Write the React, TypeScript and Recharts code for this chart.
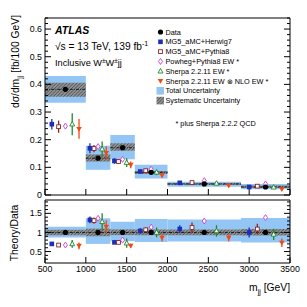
import React from 'react';
import {
  ComposedChart,
  Scatter,
  XAxis,
  YAxis,
  ErrorBar,
  ReferenceArea,
  ReferenceLine,
  Legend,
} from 'recharts';

const FONT = '"Liberation Sans", Arial, Helvetica, sans-serif';

// ---------------- data ----------------
const binEdges = [500, 1000, 1300, 1600, 2000, 2900, 3500];

const dataValues = [0.382, 0.133, 0.171, 0.082, 0.04, 0.029];
const totalLow = [0.334, 0.091, 0.129, 0.06, 0.03, 0.021];
const totalHigh = [0.43, 0.178, 0.217, 0.109, 0.048, 0.04];
const systLow = [0.355, 0.121, 0.16, 0.076, 0.036, 0.025];
const systHigh = [0.406, 0.147, 0.187, 0.087, 0.043, 0.034];

const herwigValues = [0.256, 0.169, 0.123, 0.085, 0.044, 0.029];
const herwigErr = [0.019, 0.018, 0.01, 0.005, 0.003, 0.003];
const pythiaValues = [0.247, 0.168, 0.121, 0.088, 0.045, 0.032];
const pythiaErr = [0.022, 0.013, 0.009, 0.005, 0.004, 0.004];
const powhegValues = [0.249, 0.175, 0.129, 0.093, 0.052, 0.04];
const powhegErr = [0.008, 0.006, 0.005, 0.003, 0.002, 0.002];
const sherpaValues = [0.256, 0.166, 0.117, 0.082, 0.042, 0.028];
const sherpaErr = [0.04, 0.027, 0.016, 0.01, 0.006, 0.004];
const sherpaNloValues = [0.239, 0.152, 0.109, 0.071, 0.034, 0.021];
const sherpaNloErr = [0.036, 0.024, 0.012, 0.008, 0.004, 0.003];

// ratio panel (Theory/Data)
const ratioTotalLow = [0.87, 0.7, 0.77, 0.75, 0.76, 0.74];
const ratioTotalHigh = [1.15, 1.37, 1.28, 1.35, 1.34, 1.38];
const ratioSystLow = [0.93, 0.9, 0.93, 0.93, 0.93, 0.92];
const ratioSystHigh = [1.07, 1.1, 1.08, 1.08, 1.08, 1.09];
const ratioData = [1, 1, 1, 1, 1, 1];

const herwigRatio = [0.7, 1.33, 0.74, 1.04, 1.09, 1.0];
const herwigRatioErr = [0.05, 0.09, 0.04, 0.07, 0.1, 0.13];
const pythiaRatio = [0.67, 1.31, 0.74, 1.07, 1.13, 1.09];
const pythiaRatioErr = [0.05, 0.08, 0.04, 0.06, 0.13, 0.14];
const powhegRatio = [0.67, 1.37, 0.8, 1.14, 1.3, 1.39];
const powhegRatioErr = [0.02, 0.04, 0.03, 0.04, 0.04, 0.05];
const sherpaRatio = [0.7, 1.28, 0.72, 1.0, 1.04, 0.95];
const sherpaRatioErr = [0.1, 0.22, 0.12, 0.13, 0.15, 0.15];
const sherpaNloRatio = [0.65, 1.15, 0.65, 0.86, 0.86, 0.73];
const sherpaNloRatioErr = [0.09, 0.17, 0.06, 0.1, 0.1, 0.11];

const seriesNames = [
  'MG5_aMC+Herwig7',
  'MG5_aMC+Pythia8',
  'Powheg+Pythia8 EW *',
  'Sherpa 2.2.11 EW *',
  'Sherpa 2.2.11 EW \u2297 NLO EW *',
];

// ticks
const xMajorTicks = [500, 1000, 1500, 2000, 2500, 3000, 3500];
const yTopTicks = [0, 0.1, 0.2, 0.3, 0.4, 0.5, 0.6];
const yRatioTicks = [0.5, 1, 1.5];

// minor tick positions (axis decoration)
const xMinorTicks: number[] = [];
for (let v = 500; v <= 3500; v += 100) if (v % 500 !== 0) xMinorTicks.push(v);
const yTopMinor: number[] = [];
for (let i = 1; i <= 32; i++) if (i % 5 !== 0) yTopMinor.push(+(i * 0.02).toFixed(2));
const yRatioMinor: number[] = [];
for (let i = 3; i <= 18; i++) if (i % 5 !== 0) yRatioMinor.push(+(i * 0.1).toFixed(1));

// ---------------- styles ----------------
const COLORS = ['#1c2db8', '#8e2323', '#c93fd0', '#1f8a2a', '#f04a14'];
const MARKERS = ['square', 'openSquare', 'openDiamond', 'openTriangle', 'triangleDown'];
const BAND_BLUE = '#93c6f4';
const THIN = 0.01;

const bins = binEdges.slice(0, -1).map((lo, i) => ({ lo, hi: binEdges[i + 1] }));
const binCentre = (i: number) => (bins[i].lo + bins[i].hi) / 2;
const offsetX = (i: number, k: number) => binCentre(i) + (k * (bins[i].hi - bins[i].lo)) / 6;

const topTheory = [
  [herwigValues, herwigErr],
  [pythiaValues, pythiaErr],
  [powhegValues, powhegErr],
  [sherpaValues, sherpaErr],
  [sherpaNloValues, sherpaNloErr],
];
const ratioTheory = [
  [herwigRatio, herwigRatioErr],
  [pythiaRatio, pythiaRatioErr],
  [powhegRatio, powhegRatioErr],
  [sherpaRatio, sherpaRatioErr],
  [sherpaNloRatio, sherpaNloRatioErr],
];

function drawMarker(kind: string, color: string, cx: number, cy: number, key?: string) {
  const s = 2.3;
  switch (kind) {
    case 'circle':
      return <circle key={key} cx={cx} cy={cy} r={2.6} fill={color} />;
    case 'square':
      return <rect key={key} x={cx - s} y={cy - s} width={2 * s} height={2 * s} fill={color} />;
    case 'openSquare':
      return (
        <rect key={key} x={cx - s + 0.4} y={cy - s + 0.4} width={2 * s - 0.8} height={2 * s - 0.8}
          fill="#fff" stroke={color} strokeWidth={0.9} />
      );
    case 'openDiamond':
      return (
        <polygon key={key}
          points={`${cx},${cy - 3} ${cx + 2},${cy} ${cx},${cy + 3} ${cx - 2},${cy}`}
          fill="#fff" stroke={color} strokeWidth={0.9} />
      );
    case 'openTriangle':
      return (
        <polygon key={key}
          points={`${cx},${cy - 2.7} ${cx + 2.5},${cy + 1.8} ${cx - 2.5},${cy + 1.8}`}
          fill="#fff" stroke={color} strokeWidth={0.9} />
      );
    case 'triangleDown':
      return (
        <polygon key={key}
          points={`${cx - 2.8},${cy - 2} ${cx + 2.8},${cy - 2} ${cx},${cy + 2.8}`}
          fill={color} />
      );
    default:
      return <g key={key} />;
  }
}

const shapeFor = (kind: string, color: string) => (props: any) => {
  const { cx, cy } = props;
  if (cx == null || cy == null) return <g />;
  return drawMarker(kind, color, cx, cy);
};

const noLabel = () => <g />;
const labelTick = { fontSize: 8.8, fill: '#000', fontFamily: FONT };

// frame axes: inward ticks on all four sides. If withXLabels, the bottom major axis
// carries the tick labels outside (inward ticks via a negative tick size).
function frameAxes(xDomain: number[], yDomain: number[], yMaj: number[], yMin: number[], withXLabels: boolean) {
  const common: any = {
    type: 'number',
    allowDataOverflow: true,
    interval: 0,
    stroke: '#000',
  };
  const mir: any = { ...common, mirror: true, tick: noLabel };
  return [
    withXLabels ? (
      <XAxis key="xb" xAxisId="x" dataKey="x" orientation="bottom" height={44} domain={xDomain}
        ticks={xMajorTicks} tickSize={-6} tickMargin={9} tick={labelTick} {...common} />
    ) : (
      <XAxis key="xb" xAxisId="x" dataKey="x" orientation="bottom" height={THIN} domain={xDomain}
        ticks={xMajorTicks} tickSize={6} {...mir} />
    ),
    <XAxis key="xbm" xAxisId="xbm" orientation="bottom" height={THIN} domain={xDomain}
      ticks={xMinorTicks} tickSize={3} axisLine={false} {...mir} />,
    <XAxis key="xt" xAxisId="xt" orientation="top" height={THIN} domain={xDomain}
      ticks={xMajorTicks} tickSize={6} {...mir} />,
    <XAxis key="xtm" xAxisId="xtm" orientation="top" height={THIN} domain={xDomain}
      ticks={xMinorTicks} tickSize={3} axisLine={false} {...mir} />,
    <YAxis key="yl" yAxisId="y" dataKey="y" orientation="left" width={45} domain={yDomain}
      ticks={yMaj} tickSize={-6} tickMargin={9} tick={labelTick}
      tickFormatter={(v: number) => String(v)} {...common} />,
    <YAxis key="ylm" yAxisId="ylm" orientation="left" width={THIN} domain={yDomain}
      ticks={yMin} tickSize={3} axisLine={false} {...mir} />,
    <YAxis key="yr" yAxisId="yr" orientation="right" width={THIN} domain={yDomain}
      ticks={yMaj} tickSize={6} {...mir} />,
    <YAxis key="yrm" yAxisId="yrm" orientation="right" width={THIN} domain={yDomain}
      ticks={yMin} tickSize={3} axisLine={false} {...mir} />,
  ];
}

const legendRows = [
  { label: 'Data', kind: 'circle', color: '#000' },
  ...seriesNames.map((n, k) => ({ label: n, kind: MARKERS[k], color: COLORS[k] })),
  { label: 'Total Uncertainty', kind: 'totalBox', color: BAND_BLUE },
  { label: 'Systematic Uncertainty', kind: 'systBox', color: '' },
];

function LegendBox() {
  return (
    <svg width={150} height={105} style={{ display: 'block', overflow: 'visible' }}>
      {legendRows.map((r, i) => {
        const cy = 6 + i * 9.8;
        return (
          <g key={r.label}>
            {r.kind === 'totalBox' ? (
              <rect x={6.5} y={cy - 3.8} width={7.5} height={7.6} fill={BAND_BLUE} />
            ) : r.kind === 'systBox' ? (
              <rect x={6.5} y={cy - 3.8} width={7.5} height={7.6} fill="url(#hatchPat)" />
            ) : (
              drawMarker(r.kind, r.color, 10.5, cy)
            )}
            <text x={15.5} y={cy + 2.6} fontSize={7.3} fontFamily={FONT} fill="#000">
              {r.label}
            </text>
          </g>
        );
      })}
      <text x={25.5} y={99.5} fontSize={7.3} fontFamily={FONT} fill="#000">
        * plus Sherpa 2.2.2 QCD
      </text>
    </svg>
  );
}

function bandElements(lows: number[], highs: number[], fill: string, prefix: string) {
  return bins.map((b, i) => (
    <ReferenceArea key={`${prefix}${i}`} xAxisId="x" yAxisId="y" x1={b.lo} x2={b.hi}
      y1={lows[i]} y2={highs[i]} fill={fill} fillOpacity={1} stroke="none" ifOverflow="hidden" />
  ));
}

function TopPanel() {
  const dataPts = dataValues.map((v, i) => ({ x: binCentre(i), y: v }));
  return (
    <ComposedChart width={307} height={200} margin={{ top: 18, right: 17, bottom: 5, left: 0 }}
      style={{ fontFamily: FONT }}>
      {bandElements(totalLow, totalHigh, BAND_BLUE, 'tb')}
      {bandElements(systLow, systHigh, 'url(#hatchPat)', 'sb')}
      {bins.map((b, i) => (
        <ReferenceLine key={`dl${i}`} xAxisId="x" yAxisId="y"
          segment={[{ x: b.lo, y: dataValues[i] }, { x: b.hi, y: dataValues[i] }]}
          stroke="#000" strokeWidth={0.8} strokeDasharray="3 1.2 0.8 1.2" />
      ))}
      {topTheory.map(([vals, errs], k) => (
        <Scatter key={`th${k}`} name={seriesNames[k]} xAxisId="x" yAxisId="y"
          data={vals.map((v, i) => ({ x: offsetX(i, k - 2), y: v, err: errs[i] }))}
          shape={shapeFor(MARKERS[k], COLORS[k])} isAnimationActive={false}>
          <ErrorBar dataKey="err" direction="y" width={0} stroke={COLORS[k]} strokeWidth={1.3} />
        </Scatter>
      ))}
      <Scatter name="Data" xAxisId="x" yAxisId="y" data={dataPts}
        shape={shapeFor('circle', '#000')} isAnimationActive={false} />
      {frameAxes([500, 3500], [0, 0.64], yTopTicks, yTopMinor, false)}
      <Legend layout="vertical" align="center" verticalAlign="middle"
        wrapperStyle={{ left: 150, top: 26, width: 150, height: 105 }}
        content={() => <LegendBox />} />
    </ComposedChart>
  );
}

function RatioPanel() {
  const dataPts = ratioData.map((v, i) => ({ x: binCentre(i), y: v }));
  return (
    <ComposedChart width={307} height={117} margin={{ top: 10, right: 17, bottom: 0, left: 0 }}
      style={{ fontFamily: FONT }}>
      {bandElements(ratioTotalLow, ratioTotalHigh, BAND_BLUE, 'rtb')}
      {bandElements(ratioSystLow, ratioSystHigh, 'url(#hatchPat)', 'rsb')}
      <ReferenceLine xAxisId="x" yAxisId="y" y={1} stroke="#000" strokeWidth={0.8}
        strokeDasharray="3 1.2 0.8 1.2" />
      {ratioTheory.map(([vals, errs], k) => (
        <Scatter key={`rth${k}`} name={seriesNames[k]} xAxisId="x" yAxisId="y"
          data={vals.map((v, i) => ({ x: offsetX(i, k - 2), y: v, err: errs[i] }))}
          shape={shapeFor(MARKERS[k], COLORS[k])} isAnimationActive={false}>
          <ErrorBar dataKey="err" direction="y" width={0} stroke={COLORS[k]} strokeWidth={1.3} />
        </Scatter>
      ))}
      <Scatter name="Data" xAxisId="x" yAxisId="y" data={dataPts}
        shape={shapeFor('circle', '#000')} isAnimationActive={false} />
      {frameAxes([500, 3500], [0.2, 1.85], yRatioTicks, yRatioMinor, true)}
    </ComposedChart>
  );
}

function Annotations() {
  return (
    <svg width={307} height={307}
      style={{ position: 'absolute', left: 0, top: 0, pointerEvents: 'none' }}
      fontFamily={FONT}>
      <text x={55} y={34} fontSize={10.5} fontWeight="bold" fontStyle="italic">ATLAS</text>
      <text x={55} y={50} fontSize={10.2}>
        {'\u221As = 13 TeV, 139 fb'}
        <tspan fontSize={7} dy={-4}>-1</tspan>
      </text>
      <text x={55} y={66} fontSize={9.2}>
        Inclusive W<tspan fontSize={6.5} dy={-3.5}>±</tspan>
        <tspan dy={3.5}>W</tspan>
        <tspan fontSize={6.5} dy={-3.5}>±</tspan>
        <tspan dy={3.5}>jj</tspan>
      </text>
      <text transform="translate(19,15) rotate(-90)" textAnchor="end" fontSize={10.3}>
        {'d\u03C3/dm'}
        <tspan fontSize={7} dy={2.5}>jj</tspan>
        <tspan dy={-2.5}> [fb/100 GeV]</tspan>
      </text>
      <text transform="translate(18,233) rotate(-90)" textAnchor="middle" fontSize={10.3}>
        Theory/Data
      </text>
      <text x={290} y={291} textAnchor="end" fontSize={10.3}>
        m<tspan fontSize={7} dy={2.5}>jj</tspan>
        <tspan dy={-2.5}> [GeV]</tspan>
      </text>
    </svg>
  );
}

export default function App() {
  return (
    <div style={{ position: 'absolute', left: 0, top: 0, width: 307, height: 307, background: '#fff' }}>
      <svg width={0} height={0} style={{ position: 'absolute' }}>
        <defs>
          <pattern id="hatchPat" patternUnits="userSpaceOnUse" width={2.4} height={2.4}
            patternTransform="rotate(45)">
            <rect width={2.4} height={2.4} fill="#8f9396" />
            <line x1={0} y1={0} x2={0} y2={2.4} stroke="#3c3c3c" strokeWidth={1.1} />
          </pattern>
        </defs>
      </svg>
      <div style={{ position: 'absolute', left: 0, top: 0 }}>
        <TopPanel />
      </div>
      <div style={{ position: 'absolute', left: 0, top: 190 }}>
        <RatioPanel />
      </div>
      <Annotations />
    </div>
  );
}
